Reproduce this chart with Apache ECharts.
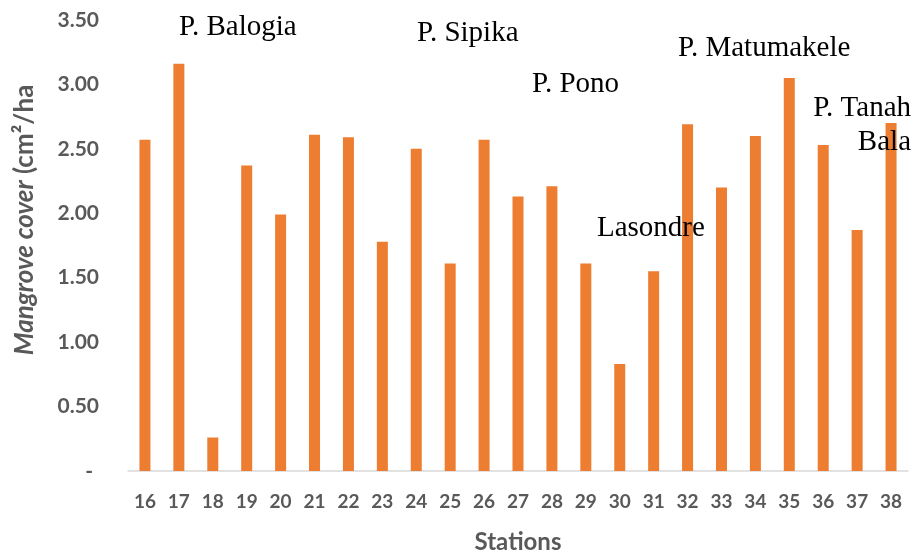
<!DOCTYPE html>
<html>
<head>
<meta charset="utf-8">
<script src="https://cdn.jsdelivr.net/npm/echarts@6/dist/echarts.min.js"></script>
<style>
html,body{margin:0;padding:0;background:#fff;}
#chart{width:914px;height:553px;}
</style>
</head>
<body>
<div id="chart"></div>
<script>
// ---- data ----
var stations = ['16','17','18','19','20','21','22','23','24','25','26','27','28','29','30','31','32','33','34','35','36','37','38'];
var mangroveCover = [2.57, 3.16, 0.26, 2.37, 1.99, 2.61, 2.59, 1.78, 2.50, 1.61, 2.57, 2.13, 2.21, 1.61, 0.83, 1.55, 2.69, 2.20, 2.60, 3.05, 2.53, 1.87, 2.70];
var yTicks = [0, 0.5, 1.0, 1.5, 2.0, 2.5, 3.0, 3.5];
var siteNames = ['P. Balogia', 'P. Sipika', 'P. Pono', 'Lasondre', 'P. Matumakele', 'P. Tanah\nBala'];
var xTitle = 'Stations';
var yTitleItalic = 'Mangrove cover';
var yTitleRest = '(cm²/ha';

// ---- layout (positions of annotation text, top of capitals) ----
var siteLayout = [
  {x: 179, y: 16, align: 'left'},
  {x: 417, y: 22, align: 'left'},
  {x: 532, y: 73, align: 'left'},
  {x: 597, y: 217, align: 'left'},
  {x: 678, y: 37, align: 'left'},
  {x: 911, y: 97, align: 'right'}
];

var chart = echarts.init(document.getElementById('chart'), null, {renderer: 'canvas'});
var serif = '"Liberation Serif","Times New Roman",serif';
var sans = 'Lato,"Open Sans",sans-serif';
var grey = '#595959';

var graphics = [];
siteNames.forEach(function (name, i) {
  var L = siteLayout[i];
  var lines = name.split('\n');
  lines.forEach(function (line, j) {
    graphics.push({
      type: 'text',
      x: L.x,
      y: L.y - 3 + j * 33.5,
      z: 100,
      silent: true,
      style: {
        text: line,
        font: '29px ' + serif,
        fill: '#000000',
        textAlign: L.align,
        textVerticalAlign: 'top'
      }
    });
  });
});
graphics.push({
  type: 'text',
  x: 25,
  y: 220,
  rotation: Math.PI / 2,
  z: 100,
  silent: true,
  style: {
    text: '{a|' + yTitleItalic + '}{b| ' + yTitleRest + '}',
    rich: {
      a: {fontFamily: sans, fontSize: 26, fontWeight: 'bold', fontStyle: 'italic', fill: grey, color: grey},
      b: {fontFamily: sans, fontSize: 26, fontWeight: 'bold', fill: grey, color: grey}
    },
    fill: grey,
    textAlign: 'center',
    textVerticalAlign: 'middle'
  }
});

var option = {
  backgroundColor: '#ffffff',
  animation: false,
  grid: {left: 128, right: 6, top: 20, bottom: 82, containLabel: false, outerBoundsMode: 'none'},
  xAxis: {
    type: 'category',
    data: stations,
    name: xTitle,
    nameLocation: 'middle',
    nameGap: 59,
    nameTextStyle: {fontFamily: sans, fontSize: 24, fontWeight: 'bold', color: grey},
    axisLine: {show: true, lineStyle: {color: '#d9d9d9', width: 1.5}},
    axisTick: {show: false},
    axisLabel: {fontFamily: sans, fontSize: 19, fontWeight: 'bold', color: grey, margin: 21, interval: 0}
  },
  yAxis: {
    type: 'value',
    min: 0,
    max: 3.5,
    interval: 0.5,
    axisLine: {show: false},
    axisTick: {show: false},
    splitLine: {show: false},
    axisLabel: {
      fontFamily: sans, fontSize: 21, fontWeight: 'bold', color: grey, margin: 29,
      formatter: function (v) {
        if (yTicks.indexOf(v) < 0) return '';
        return v === 0 ? '{d|-}' : v.toFixed(2);
      },
      rich: {d: {fontFamily: sans, fontSize: 21, fontWeight: 'bold', color: grey, padding: [0, 6, 0, 0]}}
    }
  },
  series: [{
    type: 'bar',
    data: mangroveCover,
    barWidth: 11,
    itemStyle: {color: '#ED7D31'}
  }],
  graphic: graphics
};
chart.setOption(option);
</script>
</body>
</html>
